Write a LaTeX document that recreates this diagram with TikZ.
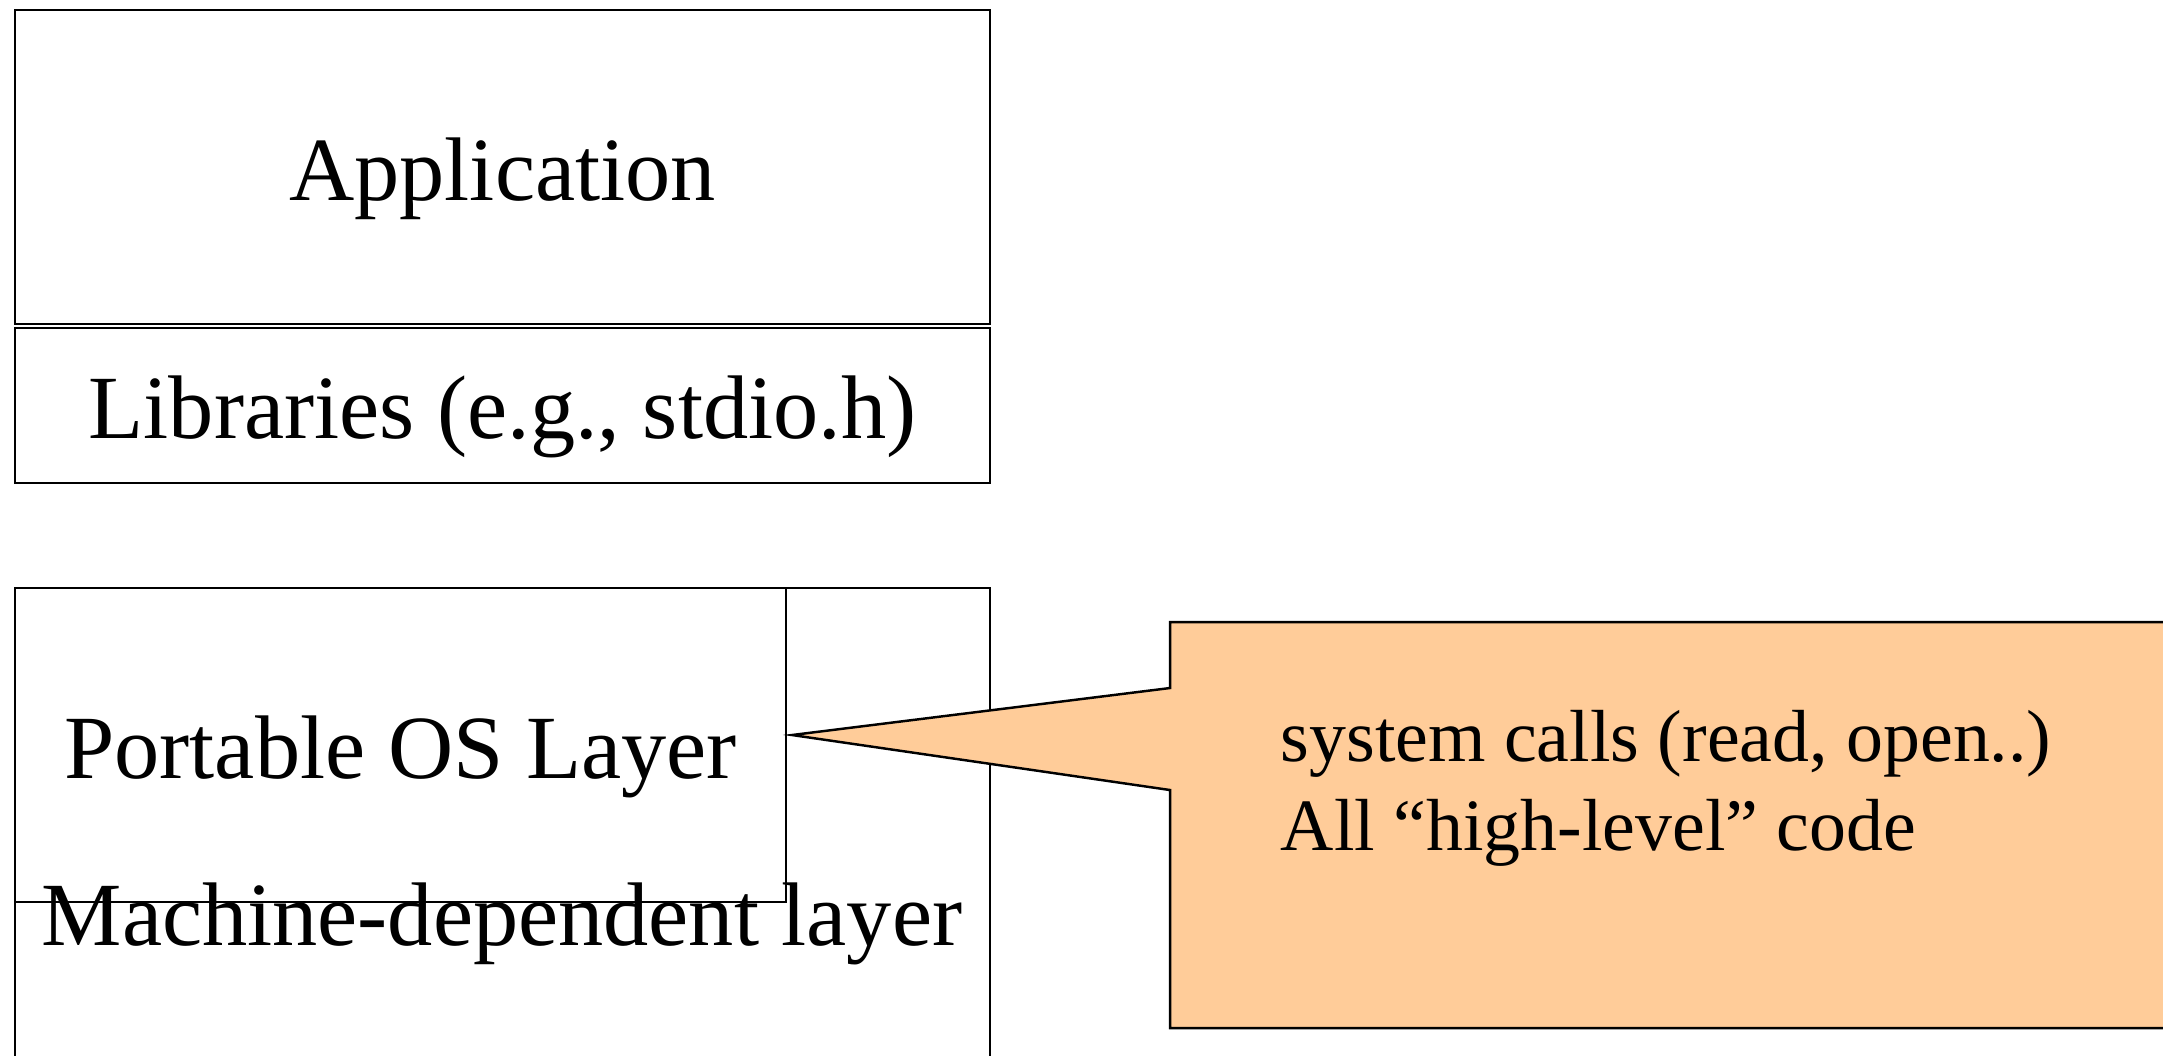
\documentclass[tikz,border=0pt]{standalone}
\usepackage{fontspec}
\setmainfont{Liberation Serif}
\usetikzlibrary{positioning}
\definecolor{calloutfill}{RGB}{255,204,153}
\begin{document}
\begin{tikzpicture}[
	layer/.style={draw, line width=0.6pt, inner sep=0pt, text height=18.8pt, text depth=0pt, font=\fontsize{25.7}{30}\selectfont},
	label/.style={inner sep=0pt, font=\fontsize{25.7}{30}\selectfont},
	note/.style={inner sep=0pt, align=left, font=\fontsize{21}{25.2}\selectfont}]
	\useasboundingbox (0,0) rectangle (21.63,-10.55);
	\clip (0,0) rectangle (21.63,-10.55);
	% upper stack
	\node[layer, minimum width=9.75cm, minimum height=3.14cm] (app) at (5.025,-1.67) {Application};
	\node[layer, minimum width=9.75cm, minimum height=1.55cm] (lib) at (5.025,-4.055) {Libraries (e.g., stdio.h)};
	% lower stack
	\draw[line width=0.6pt] (0.15,-11.5) rectangle (9.90,-5.88);
	\node[label, anchor=base] (mach) at (5.02,-9.45) {Machine-dependent layer};
	\node[layer, minimum width=7.71cm, minimum height=3.14cm] (port) at (4.005,-7.45) {Portable OS Layer};
	% callout
	\coordinate (tip) at (7.92,-7.35);
	\draw[line width=0.7pt, fill=calloutfill] (11.70,-6.22) -- (22.5,-6.22) -- (22.5,-10.28) -- (11.70,-10.28) -- (11.70,-7.90) -- (tip) -- (11.70,-6.88) -- cycle;
	\node[note, anchor=north west] (calls) at (12.80,-7.10) {system calls (read, open..)\\All “high-level” code};
\end{tikzpicture}
\end{document}
